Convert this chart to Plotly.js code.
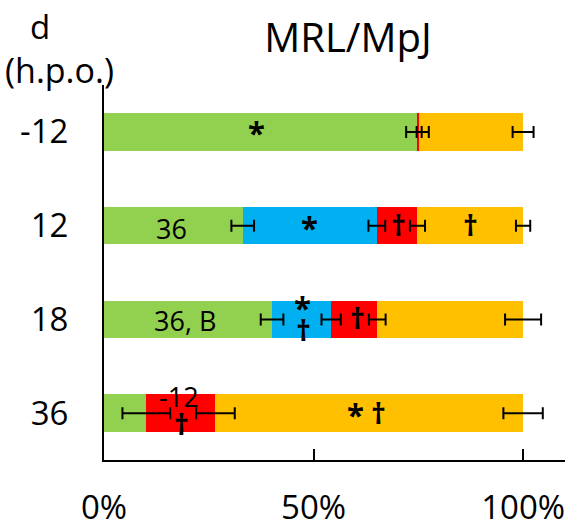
<!DOCTYPE html>
<html>
<head>
<meta charset="utf-8">
<script src="https://cdn.plot.ly/plotly-3.0.1.min.js"></script>
<style>html,body{margin:0;padding:0;background:#fff;}#chart{width:577px;height:531px;}</style>
</head>
<body>
<div id="chart"></div>
<script>
// Categories (hours post operation)
var categories = ['-12', '12', '18', '36'];

// Stacked percentages for each segment
var greenVals  = [74.8, 33.1, 40.1, 10.1];
var blueVals   = [null, 32.0, 14.1, null];
var redVals    = [0.4, 9.7, 11.0, 16.5];
var orangeVals = [24.8, 25.2, 34.8, 73.4];

// Error values (±) at the end of each segment
var greenErr  = [2.7, 2.7, 2.7, 5.7];
var blueErr   = [null, 2.0, 2.3, null];
var redErr    = [0.6, 1.8, 2.0, 4.6];
var orangeErr = [2.5, 1.7, 4.3, 4.7];

// X tick labels
var xTickVals = [0, 50, 100];
var xTickText = ['0%', '50%', '100%'];

// In-bar significance labels
var noteText = ['*', '36', '*', '†', '†', '36, B', '*', '†', '†', '-12', '†', '*', '†'];
var noteCat  = ['-12', '12', '12', '12', '12', '18', '18', '18', '18', '36', '36', '36', '36'];
var noteX    = [36.5, 16.0, 49.0, 70.3, 87.4, 19.3, 47.3, 47.7, 60.4, 17.8, 18.6, 59.9, 65.4];

var FONT = 'Open Sans, Noto Sans, sans-serif';
var colors = ['#92D050', '#00B0F0', '#FF0000', '#FFC000'];
var segs = [greenVals, blueVals, redVals, orangeVals];
var errs = [greenErr, blueErr, redErr, orangeErr];

var traces = [];
segs.forEach(function (vals, k) {
  traces.push({
    type: 'bar', orientation: 'h', y: categories, x: vals,
    marker: {color: colors[k], line: {width: 0}},
    hoverinfo: 'skip', showlegend: false
  });
});
// error bars drawn at cumulative segment ends (above all bars)
var cum = categories.map(function () { return 0; });
segs.forEach(function (vals, k) {
  var xs = [], ys = [], es = [];
  vals.forEach(function (v, i) {
    if (v === null) return;
    cum[i] += v;
    xs.push(cum[i]); ys.push(categories[i]); es.push(errs[k][i]);
  });
  traces.push({
    type: 'scatter', mode: 'markers', x: xs, y: ys,
    marker: {size: 1, opacity: 0},
    error_x: {type: 'data', array: es, color: '#000', thickness: 2, width: 6},
    hoverinfo: 'skip', showlegend: false
  });
});

// vertical centres (px) for notes
var catCenter = {'-12': 131.9, '12': 225.6, '18': 319.4, '36': 413.1};
var noteCenter = [130, 228, 225, 225, 225, 321, 305, 331, 318.5, 396.5, 424, 412, 413];

var annotations = noteText.map(function (t, i) {
  var size = (t === '*') ? 31 : (t === '†' ? 29 : 27);
  var adj = 0;
  if (t === '*') adj = -2;
  if (t === '†') adj = 1;
  return {
    xref: 'x', yref: 'y', x: noteX[i], y: categories.indexOf(noteCat[i]),
    text: t, showarrow: false, xanchor: 'center', yanchor: 'middle',
    yshift: (catCenter[noteCat[i]] - noteCenter[i]) + adj,
    font: {family: FONT, size: size, color: '#000', weight: (t === '†' || t === '*') ? 700 : 400}
  };
});
annotations.push({
  xref: 'paper', yref: 'paper', x: (39.5 - 104) / 461, y: (460 - 27) / 375,
  text: 'd', showarrow: false, xanchor: 'center', yanchor: 'middle',
  font: {family: FONT, size: 33, color: '#000'}
});
annotations.push({
  xref: 'paper', yref: 'paper', x: (59.5 - 104) / 461, y: (460 - 70) / 375,
  text: '(h.p.o.)', showarrow: false, xanchor: 'center', yanchor: 'middle',
  font: {family: FONT, size: 34, color: '#000'}
});

var layout = {
  width: 577, height: 531,
  margin: {l: 104, r: 12, t: 85, b: 71, pad: 0},
  paper_bgcolor: '#fff', plot_bgcolor: '#fff',
  barmode: 'stack', bargap: 0.6,
  showlegend: false,
  font: {family: FONT, color: '#000'},
  title: {
    text: 'MRL/MpJ', font: {family: FONT, size: 40, color: '#000'},
    x: 348 / 577, xanchor: 'center', xref: 'container',
    y: 1 - 38 / 531, yanchor: 'middle', yref: 'container'
  },
  xaxis: {
    range: [0, 110], tickvals: xTickVals, ticktext: xTickText,
    ticks: 'inside', ticklen: 11, tickwidth: 2, tickcolor: '#000',
    showline: true, linecolor: '#000', linewidth: 2,
    showgrid: false, zeroline: false, fixedrange: true,
    tickfont: {family: FONT, size: 33, color: '#000'},
    ticklabelstandoff: 17
  },
  yaxis: {
    type: 'category', categoryorder: 'array', categoryarray: categories,
    range: [3.5, -0.5],
    ticks: '', showline: true, linecolor: '#000', linewidth: 2,
    showgrid: false, zeroline: false, fixedrange: true,
    tickfont: {family: FONT, size: 33, color: '#000'},
    ticklabelstandoff: 27
  },
  annotations: annotations
};

Plotly.newPlot('chart', traces, layout, {displayModeBar: false, staticPlot: true});
</script>
</body>
</html>
